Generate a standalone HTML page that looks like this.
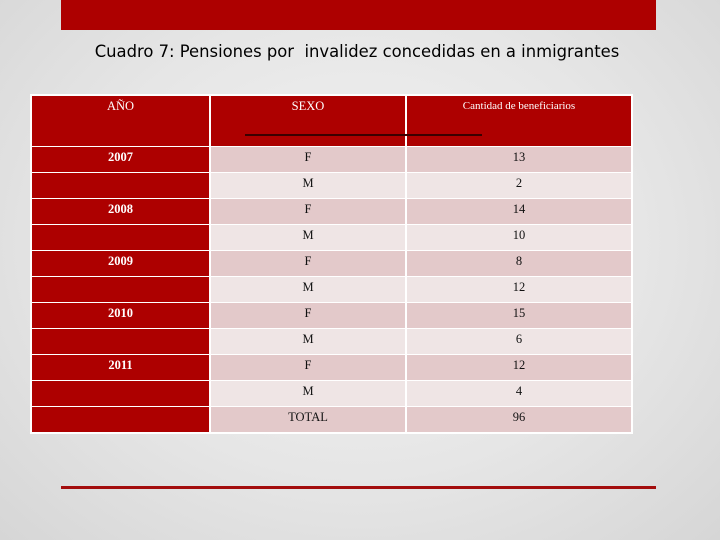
<!DOCTYPE html>
<html><head><meta charset="utf-8"><style>
body{margin:0;width:720px;height:540px;overflow:hidden;background:radial-gradient(ellipse at 50% 45%,#f3f3f3 0%,#e6e6e6 55%,#d6d6d6 100%);font-family:"Liberation Serif",serif;position:relative}
.a{position:absolute}
.c{position:absolute;text-align:center;font-size:12.5px;line-height:14px;padding-top:3px;box-sizing:border-box}
.r{background:#ad0000;color:#fff;font-weight:bold}
.p{background:#e3c9ca;color:#111}
.l{background:#efe5e5;color:#111}
</style></head><body>
<div class="a" style="left:61px;top:0;width:595px;height:30px;background:#ad0000"></div>
<div class="a" style="left:0;width:714px;top:42px;text-align:center;font-family:'DejaVu Sans',sans-serif;font-size:16.4px;color:#000">Cuadro 7: Pensiones por&nbsp; invalidez concedidas en a inmigrantes</div>
<div class="a" style="left:30px;top:94px;width:603px;height:340px;background:#fff"></div>
<div class="c r" style="left:32px;top:96px;width:177px;height:50px;font-weight:normal">AÑO</div>
<div class="c r" style="left:211px;top:96px;width:194px;height:50px;font-weight:normal">SEXO</div>
<div class="c r" style="left:407px;top:96px;width:224px;height:50px;font-weight:normal;font-size:11px">Cantidad de beneficiarios</div>
<div class="a" style="left:245px;top:134px;width:237px;height:2px;background:#3a0000"></div>
<div id="rows"></div>
<div class="a" style="left:61px;top:486px;width:595px;height:3px;background:#a30d0d"></div>
<script>
const years=["2007","","2008","","2009","","2010","","2011","",""];
const sexes=["F","M","F","M","F","M","F","M","F","M","TOTAL"];
const counts=["13","2","14","10","8","12","15","6","12","4","96"];
const host=document.getElementById('rows');
for(let i=0;i<sexes.length;i++){
  const top=147+i*26;
  const alt=(i%2===0)?'p':'l';
  const cells=[[years[i],32,177,'r','year-cell'],[sexes[i],211,194,alt,'sex-cell'],[counts[i],407,224,alt,'count-cell']];
  for(const [t,x,w,cl,nm] of cells){
    const d=document.createElement('div');
    d.className='c '+cl;
    d.style.left=x+'px';d.style.top=top+'px';d.style.width=w+'px';d.style.height='25px';
    d.textContent=t;
    
    
    host.appendChild(d);
  }
}
</script>
</body></html>
